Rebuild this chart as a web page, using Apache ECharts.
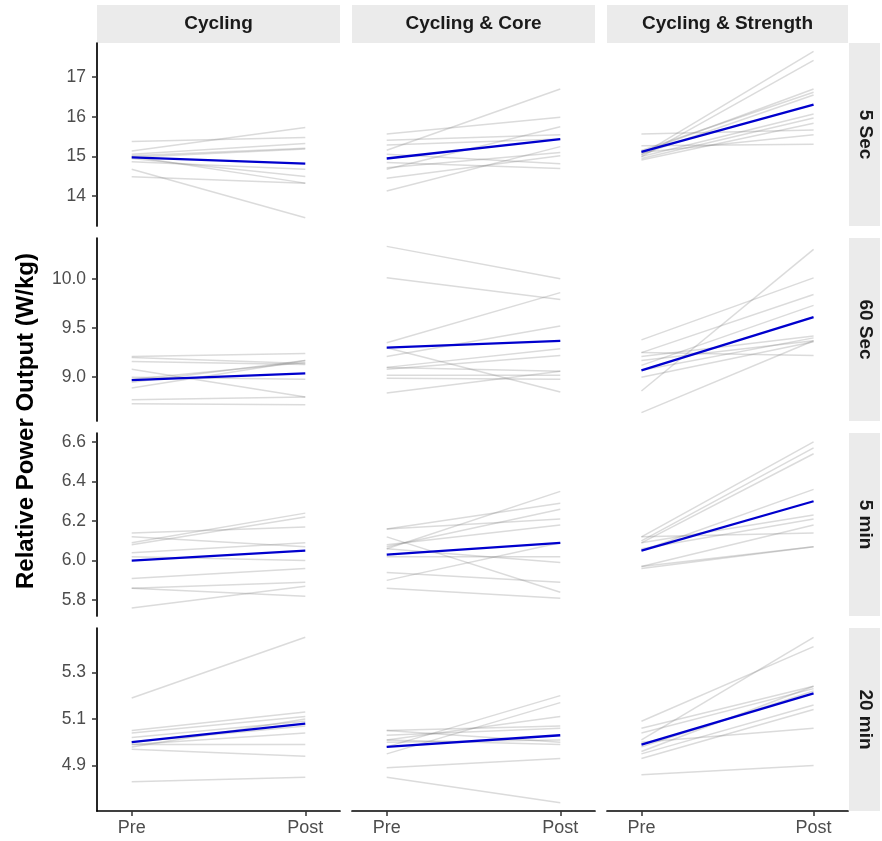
<!DOCTYPE html>
<html>
<head>
<meta charset="utf-8">
<script src="https://cdn.jsdelivr.net/npm/echarts@6/dist/echarts.min.js"></script>
<style>
html,body{margin:0;padding:0;background:#fff;}
#chart{width:882px;height:841px;}
</style>
</head>
<body>
<div id="chart"></div>
<script>
// ---------- categories ----------
const conditions = ['Cycling', 'Cycling & Core', 'Cycling & Strength'];
const durations = ['5 Sec', '60 Sec', '5 min', '20 min'];
const timepoints = ['Pre', 'Post'];
const yAxisTitle = 'Relative Power Output (W/kg)';

// ---------- individual values (W/kg) ----------
// 5 Sec
const cyc_5s_pre   = [15.38, 15.14, 15.06, 15.02, 14.98, 14.95, 14.87, 14.68, 14.49, 15.00];
const cyc_5s_post  = [15.48, 15.73, 15.33, 15.21, 15.19, 14.50, 14.68, 13.46, 14.33, 14.33];
const core_5s_pre  = [15.16, 15.57, 14.68, 15.41, 15.29, 14.13, 14.45, 15.06, 14.85, 14.72];
const core_5s_post = [16.70, 15.99, 15.75, 15.55, 15.44, 15.25, 15.02, 14.82, 14.70, 15.10];
const str_5s_pre   = [15.57, 15.27, 15.05, 15.00, 15.10, 15.15, 15.05, 15.00, 14.95, 14.91, 15.10];
const str_5s_post  = [15.67, 15.31, 17.65, 17.42, 16.70, 16.62, 16.55, 16.07, 15.97, 15.84, 15.55];
// 60 Sec
const cyc_60s_pre   = [9.21, 9.16, 9.08, 8.89, 8.95, 9.00, 8.77, 8.73, 9.20, 8.98];
const cyc_60s_post  = [9.24, 9.13, 8.80, 9.17, 9.17, 8.98, 8.80, 8.72, 9.14, 9.15];
const core_60s_pre  = [10.33, 10.01, 9.35, 9.21, 9.10, 9.08, 9.30, 9.10, 9.02, 8.99, 8.84];
const core_60s_post = [10.00, 9.79, 9.86, 9.52, 9.29, 9.22, 8.85, 9.06, 9.02, 8.98, 9.06];
const str_60s_pre   = [8.86, 9.38, 9.25, 9.12, 9.21, 9.17, 9.00, 8.64, 9.25, 9.07];
const str_60s_post  = [10.30, 10.01, 9.84, 9.73, 9.42, 9.37, 9.36, 9.37, 9.22, 9.40];
// 5 min
const cyc_5m_pre   = [6.14, 6.09, 6.08, 6.12, 6.04, 6.02, 5.91, 5.86, 5.86, 5.76];
const cyc_5m_post  = [6.17, 6.24, 6.22, 6.07, 6.09, 6.00, 5.96, 5.82, 5.89, 5.87];
const core_5m_pre  = [6.06, 6.16, 6.07, 6.16, 6.08, 5.90, 6.02, 6.12, 6.06, 5.94, 5.86];
const core_5m_post = [6.35, 6.29, 6.26, 6.21, 6.18, 6.09, 6.02, 5.84, 5.99, 5.89, 5.81];
const str_5m_pre   = [6.12, 6.10, 6.09, 6.05, 6.12, 6.09, 6.06, 5.97, 5.96, 5.97];
const str_5m_post  = [6.60, 6.57, 6.54, 6.36, 6.14, 6.23, 6.21, 6.18, 6.07, 6.07];
// 20 min
const cyc_20m_pre   = [5.19, 5.05, 5.04, 5.02, 4.99, 4.98, 4.99, 4.97, 4.83, 5.00];
const cyc_20m_post  = [5.45, 5.13, 5.11, 5.09, 5.04, 5.10, 4.99, 4.94, 4.85, 5.07];
const core_20m_pre  = [4.98, 4.95, 5.01, 5.05, 5.03, 5.05, 5.00, 5.01, 4.89, 4.85];
const core_20m_post = [5.20, 5.17, 5.11, 5.07, 5.06, 5.00, 5.01, 4.99, 4.93, 4.74];
const str_20m_pre   = [5.01, 5.09, 5.06, 5.04, 4.96, 4.95, 4.93, 5.00, 4.86, 4.98];
const str_20m_post  = [5.45, 5.41, 5.24, 5.23, 5.24, 5.16, 5.14, 5.06, 4.90, 5.22];

// ---------- group means (blue lines), per condition ----------
const mean_5s_pre   = [14.98, 14.95, 15.12];
const mean_5s_post  = [14.82, 15.44, 16.31];
const mean_60s_pre  = [8.97, 9.30, 9.07];
const mean_60s_post = [9.04, 9.37, 9.61];
const mean_5m_pre   = [6.00, 6.03, 6.05];
const mean_5m_post  = [6.05, 6.09, 6.30];
const mean_20m_pre  = [5.00, 4.98, 4.99];
const mean_20m_post = [5.08, 5.03, 5.21];

// ---------- y tick labels per row ----------
const yTicks_5s  = [14, 15, 16, 17];
const yTicks_60s = [9.0, 9.5, 10.0];
const yTicks_5m  = [5.8, 6.0, 6.2, 6.4, 6.6];
const yTicks_20m = [4.9, 5.1, 5.3];

// ---------- assemble ----------
const panelPre = [
  [cyc_5s_pre, core_5s_pre, str_5s_pre],
  [cyc_60s_pre, core_60s_pre, str_60s_pre],
  [cyc_5m_pre, core_5m_pre, str_5m_pre],
  [cyc_20m_pre, core_20m_pre, str_20m_pre]
];
const panelPost = [
  [cyc_5s_post, core_5s_post, str_5s_post],
  [cyc_60s_post, core_60s_post, str_60s_post],
  [cyc_5m_post, core_5m_post, str_5m_post],
  [cyc_20m_post, core_20m_post, str_20m_post]
];
const meanPre = [mean_5s_pre, mean_60s_pre, mean_5m_pre, mean_20m_pre];
const meanPost = [mean_5s_post, mean_60s_post, mean_5m_post, mean_20m_post];
const yTicks = [yTicks_5s, yTicks_60s, yTicks_5m, yTicks_20m];
const yDecimals = [0, 1, 1, 1];
const yMin = [13.25, 8.555, 5.72, 4.705];
const yMax = [17.86, 10.415, 6.645, 5.49];

// layout
const colLeft = [97, 352, 607];
const colWidth = [243, 243, 241];
const rowTop = [43, 238, 433, 628];
const rowHeight = 183;
const FONT = '"Liberation Sans", Arial, Helvetica, sans-serif';

const grids = [], xAxes = [], yAxes = [], series = [];
for (let r = 0; r < 4; r++) {
  for (let c = 0; c < 3; c++) {
    const idx = r * 3 + c;
    grids.push({ left: colLeft[c], top: rowTop[r], width: colWidth[c], height: rowHeight, containLabel: false });
    const bottom = r === 3;
    xAxes.push({
      type: 'value', gridIndex: idx, min: 0.8, max: 2.2,
      show: bottom,
      axisLine: { show: true, lineStyle: { color: '#000', width: 1.7 } },
      axisTick: { show: true, customValues: [1, 2], length: 5, lineStyle: { color: '#333', width: 1.5 } },
      axisLabel: { show: true, customValues: [1, 2], margin: 8, fontFamily: FONT, fontSize: 18, color: '#4d4d4d',
        formatter: v => timepoints[Math.round(v) - 1] },
      splitLine: { show: false }
    });
    const left = c === 0;
    const dec = yDecimals[r];
    yAxes.push({
      type: 'value', gridIndex: idx, min: yMin[r], max: yMax[r],
      show: left,
      axisLine: { show: true, lineStyle: { color: '#000', width: 1.7 } },
      axisTick: { show: true, customValues: yTicks[r], length: 5, lineStyle: { color: '#333', width: 1.5 } },
      axisLabel: { show: true, customValues: yTicks[r], margin: 11, fontFamily: FONT, fontSize: 17.5, color: '#4d4d4d',
        formatter: v => Number(v).toFixed(dec) },
      splitLine: { show: false }
    });
    const pre = panelPre[r][c], post = panelPost[r][c];
    for (let i = 0; i < pre.length; i++) {
      series.push({
        type: 'line', xAxisIndex: idx, yAxisIndex: idx,
        data: [[1, pre[i]], [2, post[i]]],
        symbol: 'none', silent: true, animation: false,
        lineStyle: { color: '#7f7f7f', width: 1.5, opacity: 0.28 }, z: 2
      });
    }
    series.push({
      type: 'line', xAxisIndex: idx, yAxisIndex: idx,
      data: [[1, meanPre[r][c]], [2, meanPost[r][c]]],
      symbol: 'none', silent: true, animation: false,
      lineStyle: { color: '#0000CD', width: 2.3 }, z: 5
    });
  }
}

const graphics = [];
// top strips
for (let c = 0; c < 3; c++) {
  graphics.push({ type: 'rect', shape: { x: colLeft[c], y: 5, width: colWidth[c], height: 38 }, style: { fill: '#ebebeb' }, silent: true });
  graphics.push({ type: 'text', x: colLeft[c] + colWidth[c] / 2, y: 24,
    style: { text: conditions[c], fill: '#1a1a1a', font: 'bold 19px ' + FONT, align: 'center', verticalAlign: 'middle' }, silent: true });
}
// right strips
for (let r = 0; r < 4; r++) {
  graphics.push({ type: 'rect', shape: { x: 849, y: rowTop[r], width: 31, height: rowHeight }, style: { fill: '#ebebeb' }, silent: true });
  graphics.push({ type: 'text', x: 865, y: rowTop[r] + rowHeight / 2, rotation: -Math.PI / 2,
    style: { text: durations[r], fill: '#1a1a1a', font: 'bold 19px ' + FONT, align: 'center', verticalAlign: 'middle' }, silent: true });
}
// y-axis title
graphics.push({ type: 'text', x: 26, y: 421, rotation: Math.PI / 2,
  style: { text: yAxisTitle, fill: '#000', font: 'bold 24px ' + FONT, align: 'center', verticalAlign: 'middle' }, silent: true });

const chart = echarts.init(document.getElementById('chart'), null, { renderer: 'canvas' });
chart.setOption({
  backgroundColor: '#fff',
  animation: false,
  grid: grids,
  xAxis: xAxes,
  yAxis: yAxes,
  series: series,
  graphic: graphics
});
</script>
</body>
</html>
